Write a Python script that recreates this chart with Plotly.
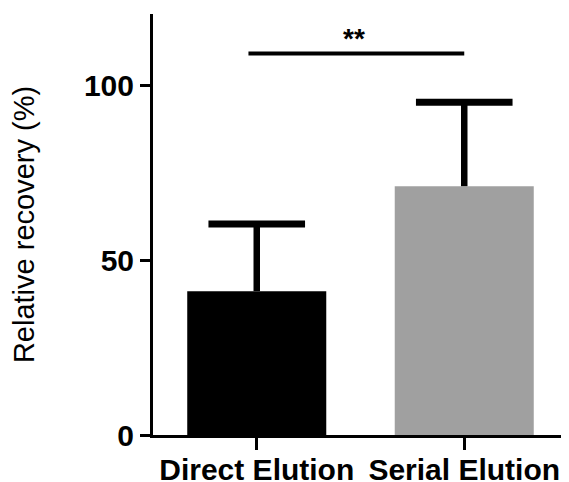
import plotly.graph_objects as go

categories = ["Direct Elution", "Serial Elution"]
means = [41.1, 71.1]
errors = [19.2, 24.0]
bar_colors = ["#000000", "#a0a0a0"]
y_ticks = [0, 50, 100]
sig_y = 109
sig_label = "**"

x_pos = list(range(len(categories)))
tops = [m + e for m, e in zip(means, errors)]

fig = go.Figure()
fig.add_trace(go.Bar(
    x=x_pos, y=means, width=0.67,
    marker=dict(color=bar_colors, line=dict(width=0)),
    hoverinfo="skip",
))
# upward-only error bars: stem via error bar (no caps), cap via line marker
fig.add_trace(go.Scatter(
    x=x_pos, y=tops, mode="markers",
    marker=dict(symbol="line-ew", size=69, color="black", line=dict(width=7, color="black")),
    error_y=dict(type="data", symmetric=False, array=[0] * len(errors), arrayminus=errors,
                 width=0, thickness=6.5, color="black"),
    hoverinfo="skip",
))

fig.add_shape(type="line", x0=-0.04, x1=1.0, y0=sig_y, y1=sig_y,
              xref="x", yref="y", line=dict(color="black", width=4))
fig.add_annotation(x=0.47, y=sig_y, text=sig_label, showarrow=False, yanchor="bottom", yshift=-2,
                   font=dict(family="Liberation Sans", size=28, color="black", weight="bold"))

fig.update_layout(
    width=561, height=474,
    margin=dict(l=145, r=1, t=6, b=47),
    plot_bgcolor="white", paper_bgcolor="white",
    showlegend=False,
    font=dict(family="Liberation Sans", color="black"),
    xaxis=dict(range=[-0.5, 1.5], tickvals=x_pos, ticktext=categories, automargin=False,
               showline=True, linewidth=3, linecolor="black",
               ticks="outside", ticklen=12, tickwidth=3, tickcolor="black",
               ticklabelstandoff=-6,
               showgrid=False, zeroline=False,
               tickfont=dict(family="Liberation Sans", size=30, color="black", weight="bold")),
    yaxis=dict(range=[0, 120.3], tickvals=y_ticks, automargin=False,
               showline=True, linewidth=3, linecolor="black",
               ticks="outside", ticklen=10, tickwidth=3, tickcolor="black",
               showgrid=False, zeroline=False,
               title=dict(text="Relative recovery (%)", standoff=42,
                          font=dict(family="Liberation Sans", size=29, color="black")),
               tickfont=dict(family="Liberation Sans", size=30, color="black", weight="bold")),
)

fig.write_html("out.html")
